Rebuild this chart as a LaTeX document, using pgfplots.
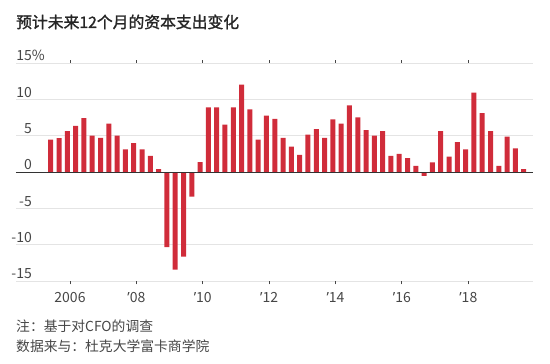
\documentclass[border=0pt]{standalone}
\usepackage{pgfplots}
\pgfplotsset{compat=1.18}
\usepackage{fontspec}
\setmainfont{Noto Sans CJK SC}
\newfontfamily\titlefont[FakeBold=1.5]{Noto Sans CJK SC}
\newfontfamily\aposfont{Noto Sans}
\newcommand{\ap}{{\aposfont ’}}
\definecolor{barred}{RGB}{208,44,58}
\definecolor{gridgray}{RGB}{228,228,228}
\definecolor{txt}{RGB}{70,70,70}
\begin{document}
\begin{tikzpicture}[x=1pt,y=1pt]
\path[use as bounding box] (0,0) rectangle (550,364);
\node[anchor=base west, inner sep=0pt, font=\fontsize{15.8}{18}\selectfont\titlefont, text=black!85] at (16,336) {预计未来12个月的资本支出变化};
\begin{axis}[at={(16pt,82.7pt)}, anchor=south west, scale only axis,
  width=517pt, height=218pt,
  xmin=2004.373, xmax=2019.95, ymin=-15, ymax=15,
  axis line style={draw=none},
  ytick={-15,-10,-5,0,5,10,15},
  yticklabels={-15,-10,-5,0,5,10,15\rlap{\%}},
  ymajorgrids, grid style={gridgray, line width=1pt},
  ytick style={draw=none},
  yticklabel style={anchor=base east, inner sep=0pt, xshift=19pt, yshift=2.5pt,
    font=\fontsize{14}{16}\selectfont, text=txt},
  xtick={2006,2008,2010,2012,2014,2016,2018},
  xticklabels={2006,\ap08,\ap10,\ap12,\ap14,\ap16,\ap18},
  tick align=outside, major tick length=3pt,
  xtick style={txt, line width=0.8pt},
  xticklabel style={anchor=base, inner sep=0pt, yshift=-18.7pt,
    font=\fontsize{14}{16}\selectfont, text=txt},
  clip=false]
\addplot[ybar, bar width=5pt, fill=barred, draw=none] coordinates {
(2005.42,4.5) (2005.67,4.7) (2005.92,5.65) (2006.17,6.4) (2006.42,7.45)
(2006.67,5.05) (2006.92,4.75) (2007.17,6.7) (2007.42,5.05) (2007.67,3.15)
(2007.92,4.0) (2008.17,3.15) (2008.42,2.25) (2008.67,0.45) (2008.92,-10.3)
(2009.17,-13.4) (2009.42,-11.6) (2009.67,-3.35) (2009.92,1.4) (2010.17,8.95)
(2010.42,8.95) (2010.67,6.55) (2010.92,8.95) (2011.17,12.05) (2011.42,8.65)
(2011.67,4.5) (2011.92,7.8) (2012.17,7.35) (2012.42,4.75) (2012.67,3.55)
(2012.92,2.4) (2013.17,5.2) (2013.42,5.95) (2013.67,4.75) (2013.92,7.3)
(2014.17,6.7) (2014.42,9.2) (2014.67,7.55) (2014.92,5.8) (2015.17,5.05)
(2015.42,5.65) (2015.67,2.25) (2015.92,2.55) (2016.17,1.95) (2016.42,0.9)
(2016.67,-0.5) (2016.92,1.35) (2017.17,5.65) (2017.42,2.15) (2017.67,4.15)
(2017.92,3.15) (2018.17,10.95) (2018.42,8.15) (2018.67,5.65) (2018.92,0.9)
(2019.17,4.9) (2019.42,3.3) (2019.67,0.45)
};
\addplot[draw=black!80, line width=1.1pt, forget plot] coordinates {(2004.373,0) (2019.95,0)};
\end{axis}
\node[anchor=base west, inner sep=0pt, font=\fontsize{13.8}{16}\selectfont, text=txt] at (16,32) {注：基于对CFO的调查};
\node[anchor=base west, inner sep=0pt, font=\fontsize{13.8}{16}\selectfont, text=txt] at (16,12.5) {数据来与：杜克大学富卡商学院};
\end{tikzpicture}
\end{document}
